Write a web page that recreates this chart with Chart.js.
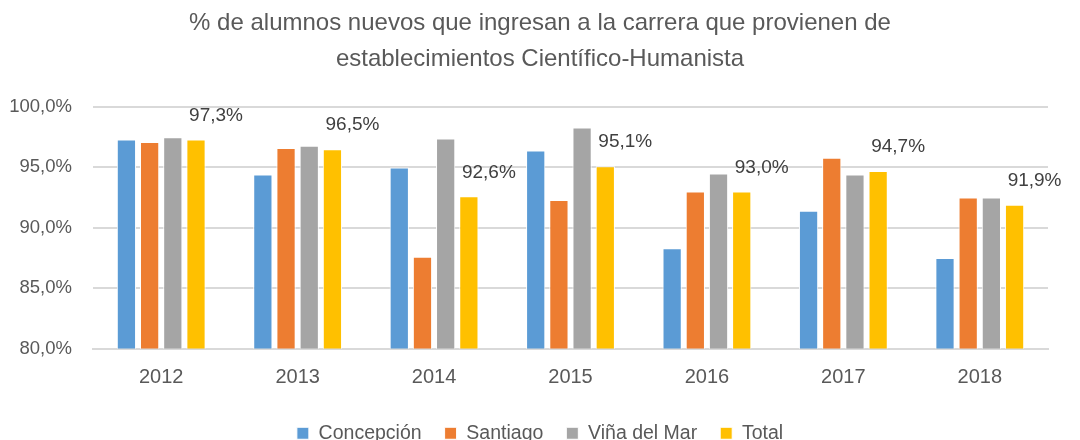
<!DOCTYPE html>
<html>
<head>
<meta charset="utf-8">
<script src="https://cdn.jsdelivr.net/npm/chart.js@4"></script>
<style>
  html, body { margin: 0; padding: 0; background: #fff; overflow: hidden; }
  #wrap { width: 1080px; height: 453px; }
</style>
</head>
<body>
<div id="wrap"><canvas id="chart" width="1080" height="453"></canvas></div>
<script>
const years = ["2012", "2013", "2014", "2015", "2016", "2017", "2018"];
const concepcion = [97.3, 94.4, 95.0, 96.4, 88.3, 91.4, 87.5];
const santiago = [97.1, 96.6, 87.6, 92.3, 93.0, 95.8, 92.5];
const vinaDelMar = [97.5, 96.8, 97.4, 98.3, 94.5, 94.4, 92.5];
const total = [97.3, 96.5, 92.6, 95.1, 93.0, 94.7, 91.9];
const yTicks = [80, 85, 90, 95, 100];

const fontName = "'Liberation Sans', Arial, sans-serif";

function fmt(v) {
  return v.toFixed(1).replace(".", ",") + "%";
}

// labels for the Total series, above and to the right of each bar
const totalLabels = {
  id: "totalLabels",
  afterDatasetsDraw(chart) {
    const ctx = chart.ctx;
    const meta = chart.getDatasetMeta(3);
    ctx.save();
    ctx.font = "19px " + fontName;
    ctx.fillStyle = "#404040";
    ctx.textAlign = "center";
    ctx.textBaseline = "middle";
    meta.data.forEach((bar, i) => {
      ctx.fillText(fmt(total[i]), bar.x + 20, bar.y - 24);
    });
    ctx.restore();
  }
};

const ctx = document.getElementById("chart").getContext("2d");
new Chart(ctx, {
  type: "bar",
  data: {
    labels: years,
    datasets: [
      { label: "Concepción", data: concepcion, backgroundColor: "#5b9bd5" },
      { label: "Santiago", data: santiago, backgroundColor: "#ed7d31" },
      { label: "Viña del Mar", data: vinaDelMar, backgroundColor: "#a5a5a5" },
      { label: "Total", data: total, backgroundColor: "#ffc000" }
    ].map(d => Object.assign(d, {
      borderColor: "#ffffff",
      borderWidth: 1,
      categoryPercentage: 0.68,
      barPercentage: 0.83
    }))
  },
  options: {
    responsive: false,
    animation: false,
    layout: { padding: 0 },
    plugins: {
      title: {
        display: true,
        text: ["% de alumnos nuevos que ingresan a la carrera que provienen de",
               "establecimientos Científico-Humanista"],
        color: "#595959",
        font: { family: fontName, size: 24, weight: "normal", lineHeight: 1.5 },
        padding: { top: 5, bottom: 30 }
      },
      legend: {
        position: "bottom",
        labels: {
          color: "#595959",
          font: { family: fontName, size: 19.5 },
          boxWidth: 12,
          boxHeight: 12,
          padding: 23
        }
      },
      tooltip: { enabled: false }
    },
    scales: {
      x: {
        afterFit: axis => { axis.height = axis.height - 6; },
        grid: { display: false, drawTicks: false },
        border: { color: "#d9d9d9", width: 2 },
        ticks: { color: "#595959", font: { family: fontName, size: 20 }, padding: 17 }
      },
      y: {
        min: 80,
        max: 100,
        afterBuildTicks: axis => { axis.ticks = yTicks.map(v => ({ value: v })); },
        afterFit: axis => { axis.width = 93; },
        grid: { color: "#d9d9d9", lineWidth: 2, drawTicks: false },
        border: { display: false },
        ticks: {
          color: "#595959",
          font: { family: fontName, size: 18.5 },
          padding: 21,
          callback: v => fmt(v)
        }
      },
      // empty right margin
      yRight: {
        position: "right",
        min: 80,
        max: 100,
        afterFit: axis => { axis.width = 32; },
        grid: { display: false, drawTicks: false },
        border: { display: false },
        ticks: { display: false }
      }
    }
  },
  plugins: [totalLabels]
});
</script>
</body>
</html>
